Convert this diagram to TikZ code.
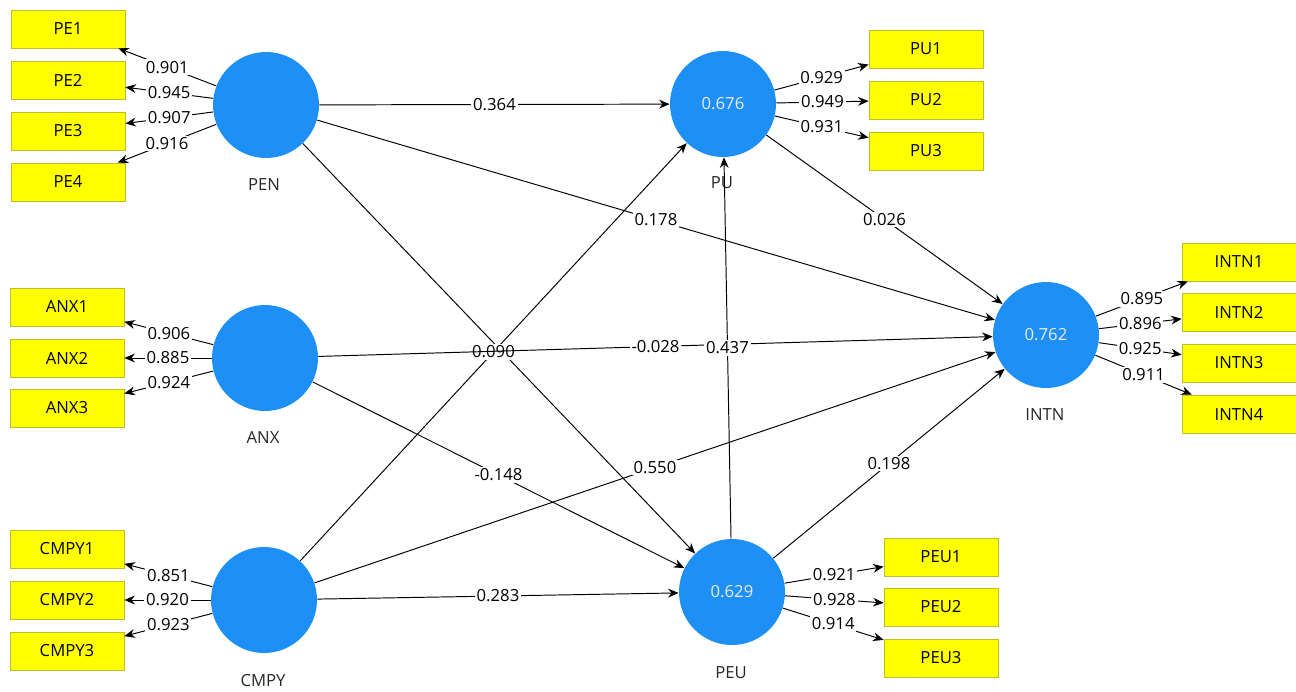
\documentclass[tikz,border=0pt]{standalone}
\usepackage{fontspec}
\setmainfont{Open Sans}
\usetikzlibrary{arrows.meta}

\definecolor{plsblue}{RGB}{30,144,245}
\definecolor{plsyellow}{RGB}{255,255,0}
\definecolor{yellowedge}{RGB}{190,190,40}

\begin{document}
\begin{tikzpicture}[
    x=0.02cm, y=-0.02cm,
    every node/.style={font=\fontsize{9.5}{11}\selectfont},
    latent/.style={circle, fill=plsblue, minimum size=2.12cm, inner sep=0pt, text=blue!8},
    indicator/.style={rectangle, draw=yellowedge, fill=plsyellow, minimum width=2.28cm, minimum height=0.76cm, inner sep=0pt},
    caption/.style={text=black!85},
    arrow/.style={->, >={Stealth[length=6pt,width=5pt]}, line width=0.55pt},
    coef/.style={midway, fill=white, inner sep=1pt}
]
    \useasboundingbox (0,0) rectangle (1296,691);

% -------------------------
% Latent variables
% -------------------------
    \node[latent] (PEN) at (266, 105) {};
    \node[latent] (ANX) at (265, 358) {};
    \node[latent] (CMPY) at (264, 600) {};
    \node[latent] (PU) at (723, 104) {0.676};
    \node[latent] (PEU) at (732, 592) {0.629};
    \node[latent] (INTN) at (1046, 335) {0.762};

    \node[caption] (PENlbl) at (264, 185) {PEN};
    \node[caption] (ANXlbl) at (263, 438) {ANX};
    \node[caption] (CMPYlbl) at (263, 681) {CMPY};
    \node[caption] (PUlbl) at (722, 183) {PU};
    \node[caption] (PEUlbl) at (731, 673) {PEU};
    \node[caption] (INTNlbl) at (1045, 415) {INTN};

% -------------------------
% Indicators - left side
% -------------------------
    \node[indicator] (PE1) at (68, 29) {PE1};
    \node[indicator] (PE2) at (68, 80) {PE2};
    \node[indicator] (PE3) at (68, 131) {PE3};
    \node[indicator] (PE4) at (68, 182) {PE4};

    \node[indicator] (ANX1) at (67, 307) {ANX1};
    \node[indicator] (ANX2) at (67, 358) {ANX2};
    \node[indicator] (ANX3) at (67, 408) {ANX3};

    \node[indicator] (CMPY1) at (67, 549) {CMPY1};
    \node[indicator] (CMPY2) at (67, 600) {CMPY2};
    \node[indicator] (CMPY3) at (67, 651) {CMPY3};

% -------------------------
% Indicators - right side
% -------------------------
    \node[indicator] (PU1) at (926, 49) {PU1};
    \node[indicator] (PU2) at (926, 100) {PU2};
    \node[indicator] (PU3) at (926, 151) {PU3};

    \node[indicator] (PEU1) at (941, 557) {PEU1};
    \node[indicator] (PEU2) at (941, 607) {PEU2};
    \node[indicator] (PEU3) at (941, 658) {PEU3};

    \node[indicator] (INTN1) at (1239, 262) {INTN1};
    \node[indicator] (INTN2) at (1239, 312) {INTN2};
    \node[indicator] (INTN3) at (1239, 363) {INTN3};
    \node[indicator] (INTN4) at (1239, 414) {INTN4};

% -------------------------
% Outer loadings
% -------------------------
    \draw[arrow] (PEN) -- node[coef] {0.901} (PE1);
    \draw[arrow] (PEN) -- node[coef] {0.945} (PE2);
    \draw[arrow] (PEN) -- node[coef] {0.907} (PE3);
    \draw[arrow] (PEN) -- node[coef] {0.916} (PE4);

    \draw[arrow] (ANX) -- node[coef] {0.906} (ANX1);
    \draw[arrow] (ANX) -- node[coef] {0.885} (ANX2);
    \draw[arrow] (ANX) -- node[coef] {0.924} (ANX3);

    \draw[arrow] (CMPY) -- node[coef] {0.851} (CMPY1);
    \draw[arrow] (CMPY) -- node[coef] {0.920} (CMPY2);
    \draw[arrow] (CMPY) -- node[coef] {0.923} (CMPY3);

    \draw[arrow] (PU) -- node[coef] {0.929} (PU1);
    \draw[arrow] (PU) -- node[coef] {0.949} (PU2);
    \draw[arrow] (PU) -- node[coef] {0.931} (PU3);

    \draw[arrow] (PEU) -- node[coef] {0.921} (PEU1);
    \draw[arrow] (PEU) -- node[coef] {0.928} (PEU2);
    \draw[arrow] (PEU) -- node[coef] {0.914} (PEU3);

    \draw[arrow] (INTN) -- node[coef] {0.895} (INTN1);
    \draw[arrow] (INTN) -- node[coef] {0.896} (INTN2);
    \draw[arrow] (INTN) -- node[coef] {0.925} (INTN3);
    \draw[arrow] (INTN) -- node[coef] {0.911} (INTN4);

% -------------------------
% Path coefficients
% -------------------------
    % crossing pair first, so 0.090 stays on top
    \draw[arrow] (PEN) -- (PEU);
    \draw[arrow] (CMPY) -- node[coef] {0.090} (PU);

    \draw[arrow] (PEN) -- node[coef] {0.364} (PU);
    \draw[arrow] (PEN) -- node[coef] {0.178} (INTN);
    \draw[arrow] (ANX) -- node[coef] {-0.028} (INTN);
    \draw[arrow] (ANX) -- node[coef] {-0.148} (PEU);
    \draw[arrow] (CMPY) -- node[coef] {0.550} (INTN);
    \draw[arrow] (CMPY) -- node[coef] {0.283} (PEU);
    \draw[arrow] (PU) -- node[coef] {0.026} (INTN);
    \draw[arrow] (PEU) -- node[coef] {0.198} (INTN);
    \draw[arrow] (PEU) -- node[coef] {0.437} (PU);
\end{tikzpicture}
\end{document}
